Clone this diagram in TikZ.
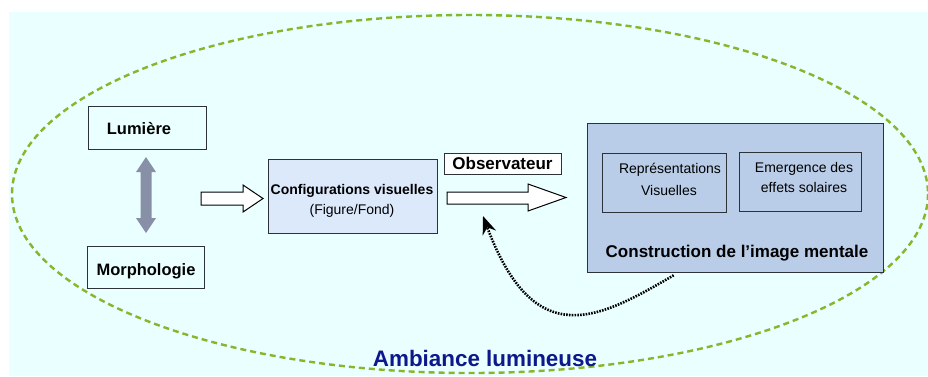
\documentclass[tikz,border=0pt]{standalone}
\usepackage{fontspec}
\setmainfont{Liberation Sans}
\usetikzlibrary{arrows.meta}
\definecolor{bgc}{RGB}{234,255,255}
\definecolor{confc}{RGB}{220,233,251}
\definecolor{consc}{RGB}{185,204,232}
\definecolor{ellc}{RGB}{138,180,42}
\definecolor{dblc}{RGB}{136,144,168}
\definecolor{navy}{RGB}{12,24,140}
\definecolor{edgec}{RGB}{45,50,58}
\tikzset{
  box/.style={draw=edgec, line width=1.3pt, inner sep=0pt, anchor=north west},
  blockarrow/.style={draw=black, line width=1pt, fill=white, line join=miter},
  lbl/.style={inner sep=0pt, font=\fontsize{14}{16}\selectfont},
  blbl/.style={inner sep=0pt, font=\fontsize{16.5}{19}\selectfont\bfseries},
}
\begin{document}
\begin{tikzpicture}[x=1pt,y=-1pt]
\useasboundingbox (0,0) rectangle (928,376);
\fill[bgc] (9,12) rectangle (928,376);
% ellipse
\draw[ellc, line width=2.4pt, dash pattern=on 6pt off 4pt] (470,194) ellipse [x radius=458, y radius=179];
% boxes
\node[box, minimum width=118pt, minimum height=43pt] (lum) at (88,106) {};
\node[blbl] (lumt) at (139,129) {Lumière};
\node[box, minimum width=117pt, minimum height=42pt] (mor) at (87,246) {};
\node[blbl] (mort) at (146,271) {Morphologie};
\node[box, fill=confc, minimum width=169pt, minimum height=74pt] (conf) at (268,159) {};
\node[inner sep=0pt, font=\fontsize{14}{16}\selectfont\bfseries] (conft) at (352,191) {Configurations visuelles};
\node[lbl] (conft2) at (352,211) {(Figure/Fond)};
\node[box, fill=white, minimum width=117pt, minimum height=21pt] (obs) at (444,153) {};
\node[inner sep=0pt, font=\fontsize{17}{19}\selectfont\bfseries] (obst) at (502.5,163.5) {Observateur};
\node[box, fill=consc, minimum width=296pt, minimum height=149pt] (cons) at (587,123) {};
\node[box, minimum width=124pt, minimum height=59pt] (rep) at (602,153) {};
\node[lbl] (rept) at (670,170) {Représentations};
\node[lbl] (rept2) at (669,190) {Visuelles};
\node[box, minimum width=122pt, minimum height=59pt] (eme) at (739,152) {};
\node[lbl] (emet) at (804,169) {Emergence des};
\node[lbl] (emet2) at (804,187) {effets solaires};
\node[inner sep=0pt, font=\fontsize{17}{19}\selectfont\bfseries] (const) at (737,253) {Construction de l’image mentale};
\node[inner sep=0pt, text=navy, font=\fontsize{22.4}{25}\selectfont\bfseries] (amb) at (485,358) {Ambiance lumineuse};
% double gray arrow between Lumiere and Morphologie
\fill[dblc] (146,157) -- (156,172) -- (151.5,172) -- (151.5,218) -- (156,218) -- (146,233)
  -- (136,218) -- (140.5,218) -- (140.5,172) -- (136,172) -- cycle;
% block arrows
\draw[blockarrow] (201,192) -- (243,192) -- (243,185) -- (263,198.5) -- (243,212) -- (243,205) -- (201,205) -- cycle;
\draw[blockarrow] (447,192) -- (528,192) -- (528,184) -- (566,197.5) -- (528,211) -- (528,204) -- (447,204) -- cycle;
% feedback dotted arrow
\coordinate (fbend) at (483,216);
\draw[line width=2.6pt, dash pattern=on 1.6pt off 1.2pt, -{Stealth[length=18pt, width=14pt]}]
  (cons.south) ++(-62,2) .. controls (600,318) and (535,355) .. (fbend);
\end{tikzpicture}
\end{document}
